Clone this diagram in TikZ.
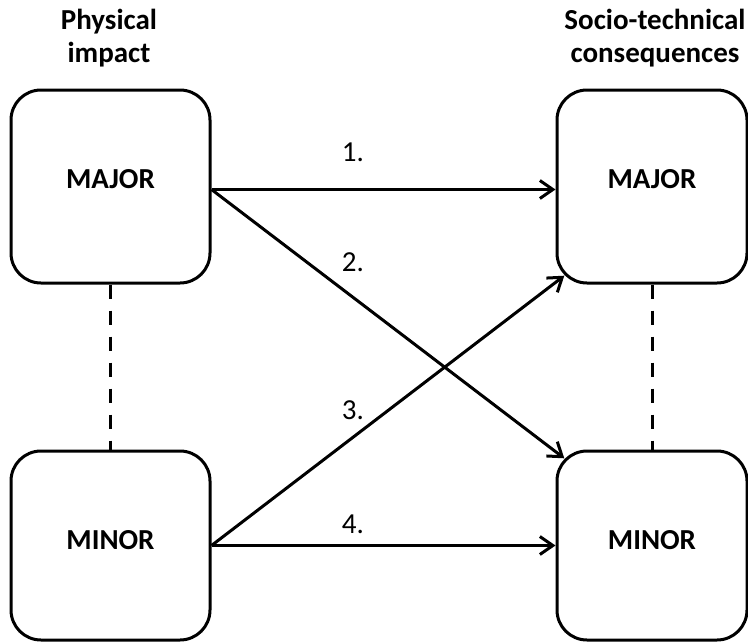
\documentclass[tikz,border=0pt]{standalone}
\usepackage{fontspec}
\setmainfont{Carlito}
\usetikzlibrary{arrows.meta}
\begin{document}
\begin{tikzpicture}[x=1pt,y=-1pt,
  box/.style={draw=black, line width=3pt, rounded corners=30pt, fill=white,
    minimum width=199pt, minimum height=193pt, inner sep=0pt,
    font=\fontsize{29}{33}\selectfont\bfseries},
  head/.style={align=center, font=\fontsize{29}{33}\selectfont\bfseries},
  num/.style={font=\fontsize{29}{33}\selectfont},
  conn/.style={line width=3pt, -{Straight Barb[length=13pt,width=18pt,line width=3pt]}},
  dashline/.style={line width=3pt, dash pattern=on 14pt off 12pt}]
\useasboundingbox (0,0) rectangle (748,641);
\node[head] (h1) at (109,38) {Physical\\impact};
\node[head] (h2) at (655,38) {Socio-technical\\consequences};
\node[box] (LT) at (110.5,186.5) {\raisebox{16pt}{MAJOR}};
\node[box, minimum height=189pt] (LB) at (110.5,545.5) {\raisebox{11pt}{MINOR}};
\node[box, minimum width=190pt] (RT) at (652,186.5) {\raisebox{16pt}{MAJOR}};
\node[box, minimum width=190pt, minimum height=189pt] (RB) at (652,545.5) {\raisebox{11pt}{MINOR}};
\coordinate (RBc) at ([xshift=8.8pt,yshift=-8.8pt]RB.north west);
\coordinate (RTc) at ([xshift=8.8pt,yshift=8.8pt]RT.south west);
\coordinate (LTo) at ([yshift=-3pt]LT.east);
\coordinate (LBo) at (LB.east);
\draw[dashline] (LT.south) -- (LB.north);
\draw[dashline] (RT.south) -- (RB.north);
\draw[conn] (LTo) -- (LTo -| RT.west);
\draw[conn] (LTo) -- (RBc);
\draw[conn] (LBo) -- (RTc);
\draw[conn] (LBo) -- (LBo -| RB.west);
\node[num] (n1) at (353,152) {1.};
\node[num] (n2) at (353,262) {2.};
\node[num] (n3) at (353,410) {3.};
\node[num] (n4) at (353,524) {4.};
\end{tikzpicture}
\end{document}
